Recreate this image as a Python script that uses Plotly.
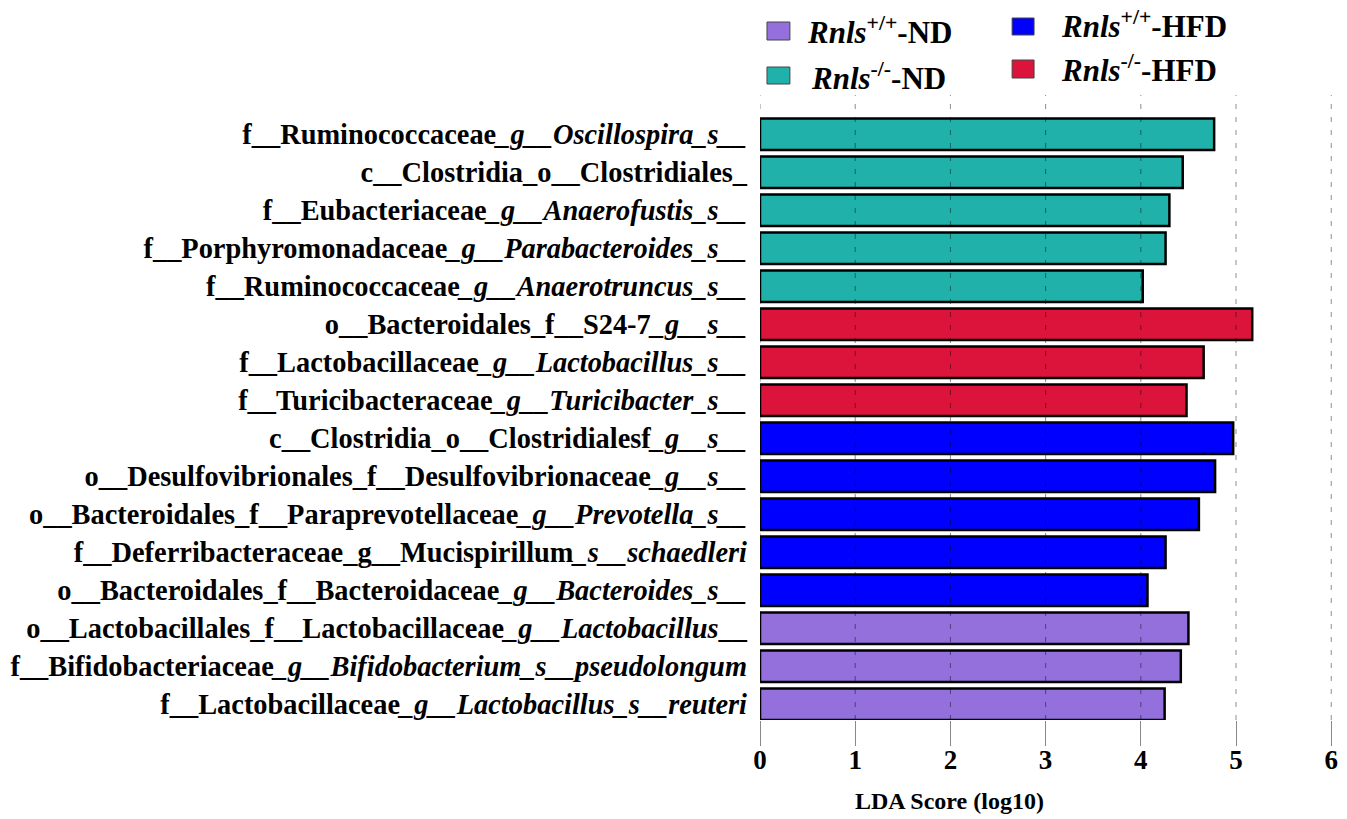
import plotly.graph_objects as go

# ---- data ----
labels = [
    "f__Ruminococcaceae<i>_g__Oscillospira_s__</i>",
    "c__Clostridia_o__Clostridiales_",
    "f__Eubacteriaceae<i>_g__Anaerofustis_s__</i>",
    "f__Porphyromonadaceae<i>_g__Parabacteroides_s__</i>",
    "f__Ruminococcaceae<i>_g__Anaerotruncus_s__</i>",
    "o__Bacteroidales_f__S24-7<i>_g__s__</i>",
    "f__Lactobacillaceae<i>_g__Lactobacillus_s__</i>",
    "f__Turicibacteraceae<i>_g__Turicibacter_s__</i>",
    "c__Clostridia_o__Clostridialesf<i>_g__s__</i>",
    "o__Desulfovibrionales_f__Desulfovibrionaceae<i>_g__s__</i>",
    "o__Bacteroidales_f__Paraprevotellaceae<i>_g__Prevotella_s__</i>",
    "f__Deferribacteraceae_g__Mucispirillum<i>_s__schaedleri</i>",
    "o__Bacteroidales_f__Bacteroidaceae<i>_g__Bacteroides_s__</i>",
    "o__Lactobacillales_f__Lactobacillaceae<i>_g__Lactobacillus</i>__",
    "f__Bifidobacteriaceae<i>_g__Bifidobacterium_s__pseudolongum</i>",
    "f__Lactobacillaceae<i>_g__Lactobacillus_s__reuteri</i>",
]
lda_scores = [4.77, 4.44, 4.30, 4.26, 4.02,
              5.17, 4.66, 4.48,
              4.97, 4.78, 4.61, 4.26, 4.07,
              4.50, 4.42, 4.25]
groups = ["KO_ND"] * 5 + ["KO_HFD"] * 3 + ["WT_HFD"] * 5 + ["WT_ND"] * 3

group_order = ["WT_ND", "KO_ND", "WT_HFD", "KO_HFD"]
group_names = {
    "WT_ND": "<b><i>Rnls</i><sup>+/+</sup>-ND</b>",
    "KO_ND": "<b><i>Rnls</i><sup>-/-</sup>-ND</b>",
    "WT_HFD": "<b><i>Rnls</i><sup>+/+</sup>-HFD</b>",
    "KO_HFD": "<b><i>Rnls</i><sup>-/-</sup>-HFD</b>",
}
group_colors = {
    "WT_ND": "#9370DB",
    "KO_ND": "#20B2AA",
    "WT_HFD": "#0000FF",
    "KO_HFD": "#DC143C",
}
x_ticks = [0, 1, 2, 3, 4, 5, 6]
x_title = "LDA Score (log10)"

# ---- layout geometry (pixels) ----
W, H = 1347, 819
PL, PR, PT, PB = 760, 1338, 95, 720
FONT = "Liberation Serif"


def px_x(px):
    return (px - PL) / (PR - PL)


def px_y(py):
    return (PB - py) / (PB - PT)


fig = go.Figure()
for g in group_order:
    xs = [v for v, gg in zip(lda_scores, groups) if gg == g]
    ys = [l for l, gg in zip(labels, groups) if gg == g]
    fig.add_trace(go.Bar(
        x=xs, y=ys, orientation="h", name=group_names[g],
        marker=dict(color=group_colors[g], line=dict(color="black", width=2.5)),
        width=0.83, showlegend=False,
    ))

# dashed grid lines drawn over the bars
for t in x_ticks:
    fig.add_shape(type="line", xref="x", yref="paper", x0=t, x1=t, y0=0, y1=1,
                  line=dict(color="rgba(0,0,0,0.45)", width=1, dash="5px,8px"),
                  layer="above")

# manual legend
legend_items = [
    ("WT_ND", 767, 790, 22, 40, 805, 31),
    ("KO_ND", 767, 790, 67, 84, 809, 76),
    ("WT_HFD", 1013, 1035, 18, 35, 1060, 25),
    ("KO_HFD", 1013, 1035, 60, 78, 1060, 68),
]
for g, x0, x1, y0, y1, tx, ty in legend_items:
    fig.add_shape(type="rect", xref="paper", yref="paper",
                  x0=px_x(x0), x1=px_x(x1), y0=px_y(y0), y1=px_y(y1),
                  fillcolor=group_colors[g], line=dict(color="#444", width=1))
    fig.add_annotation(xref="paper", yref="paper", x=px_x(tx), y=px_y(ty),
                       xanchor="left", yanchor="middle", showarrow=False,
                       text=group_names[g],
                       font=dict(family=FONT, size=31, color="black"))

fig.add_annotation(xref="paper", yref="paper", x=px_x(950), y=px_y(801),
                   xanchor="center", yanchor="middle", showarrow=False,
                   text="<b>" + x_title + "</b>",
                   font=dict(family=FONT, size=24, color="black"))

fig.update_layout(
    width=W, height=H,
    margin=dict(l=PL, r=W - PR, t=PT, b=H - PB, pad=0),
    paper_bgcolor="white", plot_bgcolor="white",
    bargap=0.17,
    xaxis=dict(range=[0, 6.05], tickvals=x_ticks, showgrid=False, zeroline=False,
               showline=False, ticks="outside", ticklen=25, tickcolor="#888",
               tickwidth=1, ticklabelstandoff=-9,
               tickfont=dict(family=FONT, size=27, color="black", weight="bold")),
    yaxis=dict(categoryorder="array", categoryarray=labels,
               range=[15.417, -1.034], showgrid=False, zeroline=False,
               showline=False, ticks="", ticklabelstandoff=12,
               tickfont=dict(family=FONT, size=28.4, color="black", weight="bold")),
)

fig.write_html("out.html")
